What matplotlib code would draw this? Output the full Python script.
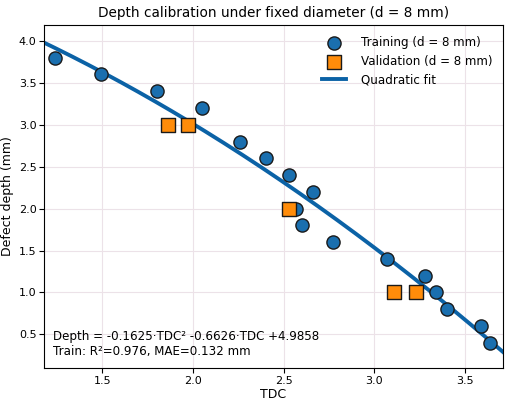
import numpy as np
import matplotlib
matplotlib.use("Agg")
import matplotlib.pyplot as plt

# training points (TDC, depth)
train_tdc = [1.24, 1.49, 1.80, 2.05, 2.26, 2.40, 2.53, 2.66, 2.57, 2.60, 2.77,
             3.07, 3.28, 3.34, 3.40, 3.59, 3.64]
train_depth = [3.8, 3.6, 3.4, 3.2, 2.8, 2.6, 2.4, 2.2, 2.0, 1.8, 1.6,
               1.4, 1.2, 1.0, 0.8, 0.6, 0.4]

# validation points
val_tdc = [1.86, 1.97, 2.53, 3.11, 3.23]
val_depth = [3.0, 3.0, 2.0, 1.0, 1.0]

# quadratic fit coefficients
coef = [-0.1625, -0.6626, 4.9858]

fig, ax = plt.subplots(figsize=(5.06, 4.03), dpi=100)
fig.subplots_adjust(left=0.087, right=0.994, top=0.938, bottom=0.087)

xs = np.linspace(1.15, 3.75, 200)
ax.plot(xs, np.polyval(coef, xs), color="#0b62a6", lw=2.8, label="Quadratic fit", zorder=2)
ax.scatter(train_tdc, train_depth, s=90, marker="o", color="#1a6faf",
           edgecolor="#1a1a1a", linewidth=1.0, label="Training (d = 8 mm)", zorder=3)
ax.scatter(val_tdc, val_depth, s=90, marker="s", color="#ff8c0a",
           edgecolor="#1a1a1a", linewidth=1.0, label="Validation (d = 8 mm)", zorder=4)

ax.set_xlim(1.178, 3.71)
ax.set_ylim(0.10, 4.19)
ax.set_xticks([1.5, 2.0, 2.5, 3.0, 3.5])
ax.set_yticks([0.5, 1.0, 1.5, 2.0, 2.5, 3.0, 3.5, 4.0])
ax.grid(True, color="#ece2e8", lw=0.8)
ax.set_axisbelow(True)
ax.tick_params(labelsize=8, length=3.5, pad=2)

ax.set_xlabel("TDC", fontsize=9, labelpad=2)
ax.set_ylabel("Defect depth (mm)", fontsize=9, labelpad=3)
ax.set_title("Depth calibration under fixed diameter (d = 8 mm)", fontsize=9.8, pad=6)

handles, labels = ax.get_legend_handles_labels()
order = [1, 2, 0]
ax.legend([handles[i] for i in order], [labels[i] for i in order],
          loc="upper right", fontsize=8.6, frameon=False, handletextpad=1.2)

ax.text(0.02, 0.03,
        "Depth = -0.1625\u00b7TDC\u00b2 -0.6626\u00b7TDC +4.9858\n"
        "Train: R\u00b2=0.976, MAE=0.132 mm",
        transform=ax.transAxes, fontsize=8.6, va="bottom", ha="left")

fig.savefig("out.png", dpi=100)
